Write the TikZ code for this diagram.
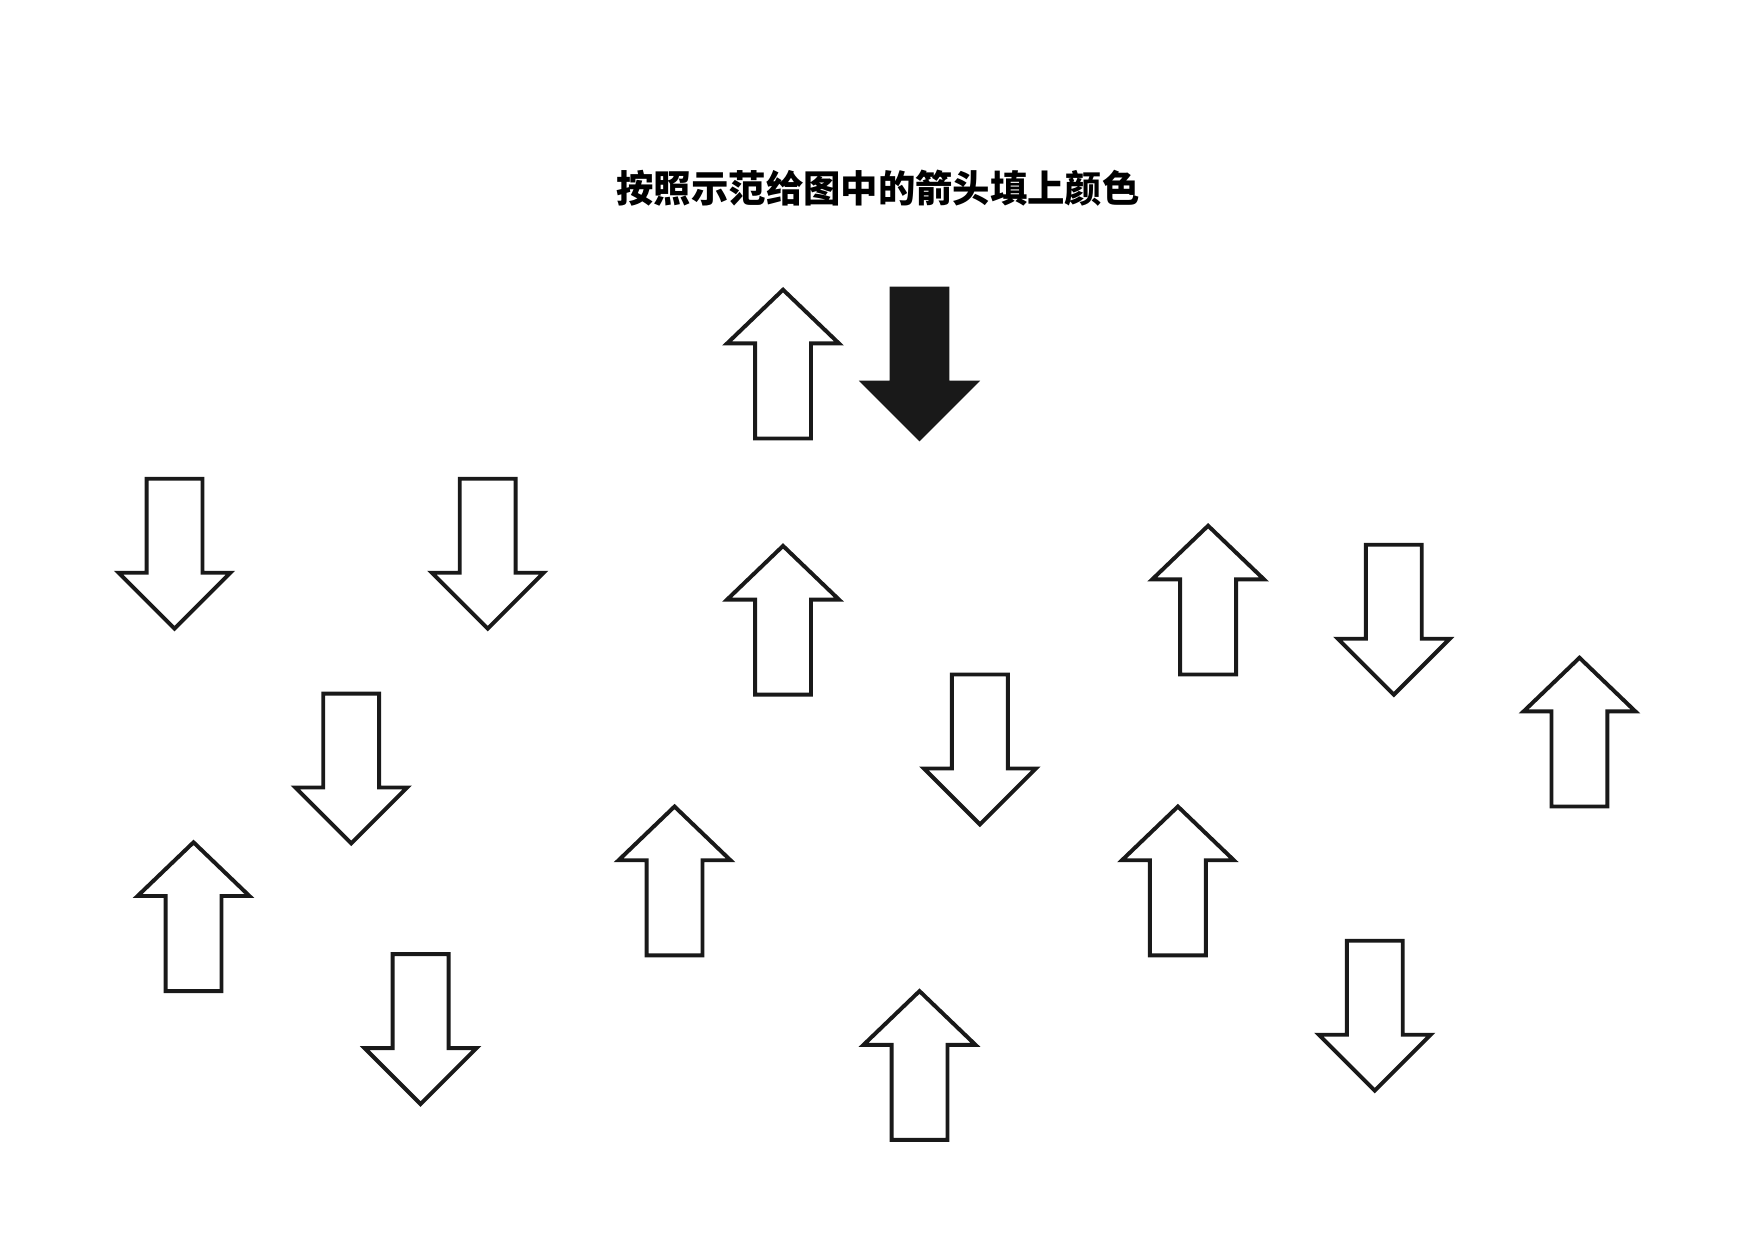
\documentclass[tikz,border=0pt]{standalone}
\usepackage{fontspec}
\newfontfamily\cjk{Noto Sans CJK SC}
\tikzset{
  arrowline/.style={draw=black!90, line width=1pt, fill=white, line join=miter},
  uparrow/.pic={\path[arrowline,#1] (0,0) -- (50,48) -- (25,48) -- (25,133) -- (-25,133) -- (-25,48) -- (-50,48) -- cycle;},
  downarrow/.pic={\path[arrowline,#1] (-25,0) -- (25,0) -- (25,84) -- (50,84) -- (0,134) -- (-50,84) -- (-25,84) -- cycle;},
}
\begin{document}
\begin{tikzpicture}[x=0.01cm,y=-0.01cm]

        \useasboundingbox (0,0) rectangle (1568,1109);

        \node[font=\cjk\bfseries\fontsize{9.5pt}{11pt}\selectfont] (title) at (785,168) {按照示范给图中的箭头填上颜色};

        % sample
        \pic at (822,258) {downarrow={fill=black!90}};

        % up
        \foreach \px/\py in {700/259, 700/488, 1080/470, 1412/588, 173/753, 603/721, 1053/721, 822/886}
            \pic at (\px,\py) {uparrow={}};

        % down
        \foreach \px/\py in {156/428, 436/428, 314/620, 876/603, 1246/487, 1229/841, 376/853}
            \pic at (\px,\py) {downarrow={}};

    \end{tikzpicture}
\end{document}
